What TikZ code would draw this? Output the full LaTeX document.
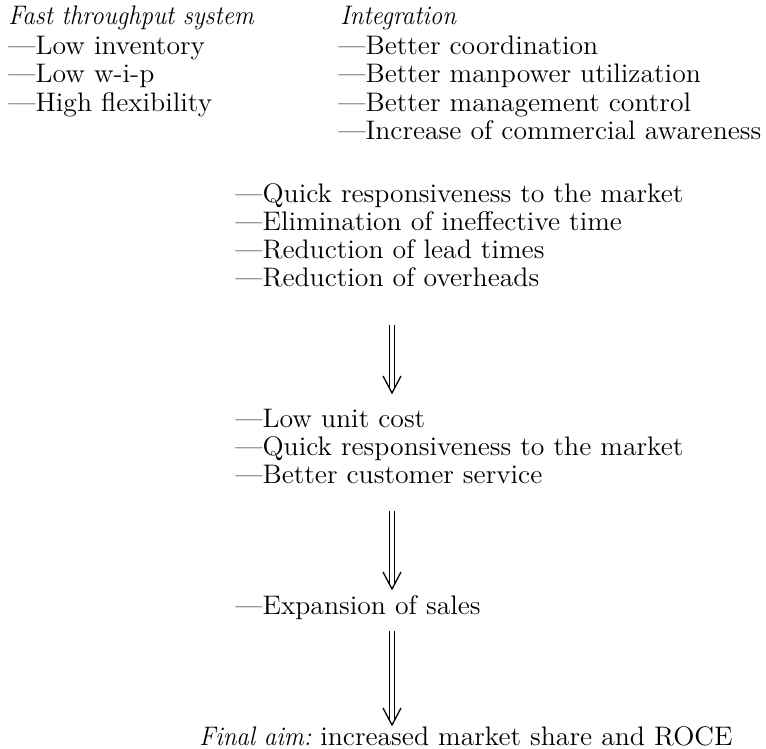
\documentclass[tikz,border=0pt]{standalone}
\usepackage{graphicx}
\newcommand\Rm[1]{\scalebox{1.035}[1]{#1}}
\newcommand\It[1]{\scalebox{0.93}[1]{\itshape #1}}
\begin{document}
\begin{tikzpicture}[x=0.5pt,y=-0.5pt,
  txt/.style={anchor=base west,inner sep=0pt,font=\fontsize{13.4}{16}\selectfont},
  arrline/.style={line width=0.65pt,line cap=butt}]
\newcommand\dblarrow[2]{%
  \draw[arrline] ([xshift=-1.3pt]#1) -- ([xshift=-1.3pt,yshift=2.4pt]#2);
  \draw[arrline] ([xshift=1.3pt]#1) -- ([xshift=1.3pt,yshift=2.4pt]#2);
  \draw[arrline,line join=miter] ([xshift=-4.5pt,yshift=8.5pt]#2) -- (#2) -- ([xshift=4.5pt,yshift=8.5pt]#2);
}
\useasboundingbox (0,0) rectangle (766,749);
% left column
\node[txt] (fts) at (8,25) {\It{Fast throughput system}};
\node[txt] (l1) at (8,55) {\Rm{---Low inventory}};
\node[txt] (l2) at (8,83) {\Rm{---Low w-i-p}};
\node[txt] (l3) at (8,112) {\Rm{---High flexibility}};
% integration column
\node[txt] (int) at (340,25) {\It{Integration}};
\node[txt] (i1) at (338,55) {\Rm{---Better coordination}};
\node[txt] (i2) at (338,83) {\Rm{---Better manpower utilization}};
\node[txt] (i3) at (338,112) {\Rm{---Better management control}};
\node[txt] (i4) at (338,140) {\Rm{---Increase of commercial awareness}};
% block 2
\node[txt] (b1) at (235,202) {\Rm{---Quick responsiveness to the market}};
\node[txt] (b2) at (235,230) {\Rm{---Elimination of ineffective time}};
\node[txt] (b3) at (235,258) {\Rm{---Reduction of lead times}};
\node[txt] (b4) at (235,286) {\Rm{---Reduction of overheads}};
% block 3
\node[txt] (c1) at (235,427) {\Rm{---Low unit cost}};
\node[txt] (c2) at (235,455) {\Rm{---Quick responsiveness to the market}};
\node[txt] (c3) at (235,483) {\Rm{---Better customer service}};
% block 4
\node[txt] (d1) at (235,614) {\Rm{---Expansion of sales}};
% final
\node[txt] (fin) at (199,745) {\It{Final aim:}\Rm{ increased market share and ROCE}};
% arrows
\coordinate (a1s) at (392,325); \coordinate (a1e) at (392,393);
\coordinate (a2s) at (392,511); \coordinate (a2e) at (392,589);
\coordinate (a3s) at (392,631); \coordinate (a3e) at (392,725);
\dblarrow{a1s}{a1e}
\dblarrow{a2s}{a2e}
\dblarrow{a3s}{a3e}
\end{tikzpicture}
\end{document}
